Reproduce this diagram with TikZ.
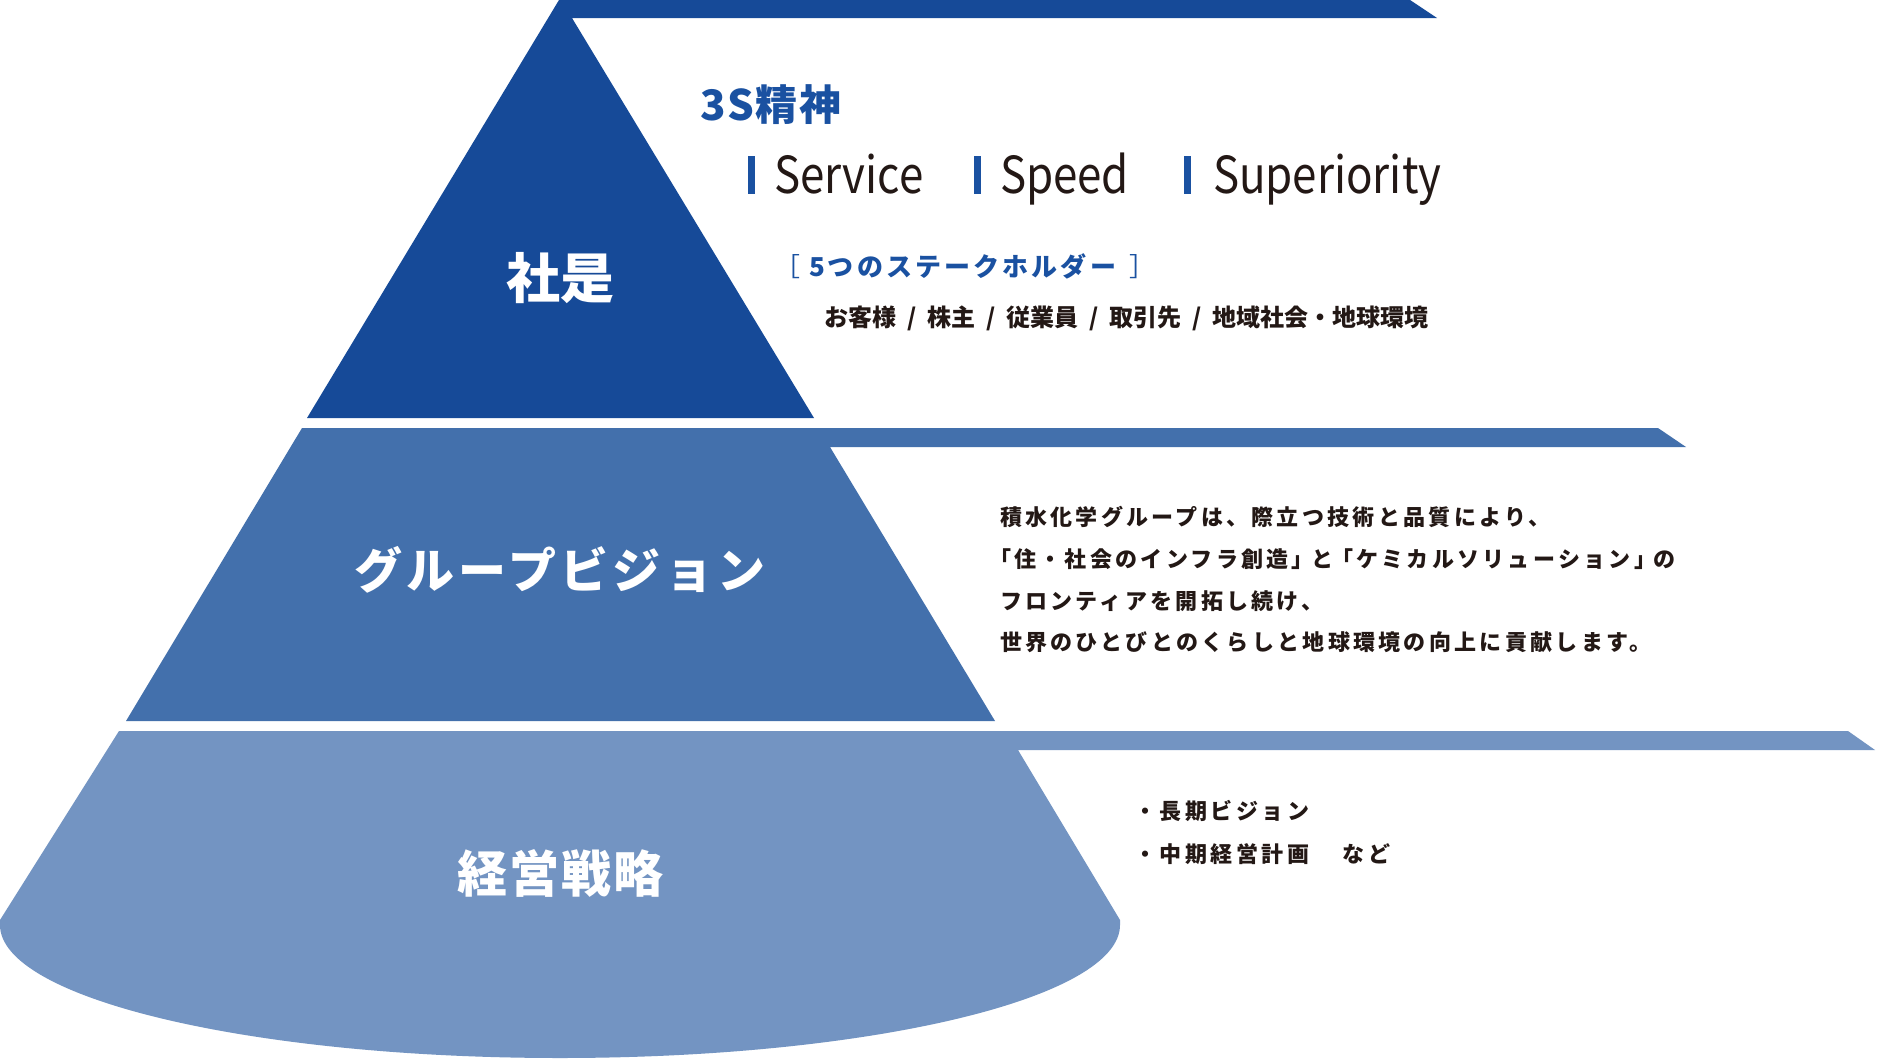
\documentclass[tikz,border=0pt]{standalone}
\usepackage{fontspec}
\setmainfont{Noto Sans CJK JP}
\newfontfamily\jp{Noto Sans CJK JP}
\newfontfamily\jpTa[LetterSpace=4]{Noto Sans CJK JP}
\newfontfamily\jpTb[LetterSpace=9]{Noto Sans CJK JP}
\newfontfamily\jpTc[LetterSpace=12]{Noto Sans CJK JP}
\newfontfamily\jpTd[LetterSpace=15]{Noto Sans CJK JP}
\newfontfamily\jpTe[LetterSpace=16]{Noto Sans CJK JP}
\newcommand\myLqS{\hspace{-0.5em}「}
\newcommand\myLq{\hspace{-0.1em}「}
\newcommand\myRq{」\hspace{-0.1em}}
\newcommand\mySl{\hspace{11pt}/\hspace{11pt}}
\definecolor{tierA}{HTML}{164A98}
\definecolor{tierB}{HTML}{4370AC}
\definecolor{tierC}{HTML}{7394C2}
\definecolor{accent}{HTML}{1A51A1}
\definecolor{inkc}{HTML}{231815}
\tikzset{
  lab/.style={text=white, inner sep=0pt, outer sep=0pt},
  txt/.style={anchor=base west, inner sep=0pt, outer sep=0pt, text=inkc},
  bluetxt/.style={anchor=base west, inner sep=0pt, outer sep=0pt, text=accent},
  latin/.style={txt, font=\jp\fontsize{51}{60}\selectfont},
  vistxt/.style={txt, font=\jpTd\bfseries\fontsize{22}{41}\selectfont},
  strtxt/.style={txt, font=\jpTe\bfseries\fontsize{22}{41}\selectfont},
  barmark/.style={fill=accent}
}
\begin{document}
\begin{tikzpicture}[x=1pt,y=1pt]
\useasboundingbox (0,0) rectangle (1877,-1060);
\fill[white] (0,0) rectangle (1877,-1060);
% tiers
\fill[tierA] (559,0) -- (1410,0) -- (1437,-18) -- (572,-18) -- (814,-418) -- (307,-418) -- cycle;
\fill[tierB] (302,-428) -- (1658,-428) -- (1686,-447) -- (830,-447) -- (995,-721) -- (126,-721) -- cycle;
\fill[tierC] (119,-731) -- (1848,-731) -- (1875,-750) -- (1018,-750) -- (1120,-920) -- (1120,-925)
  arc[start angle=0,end angle=-180,x radius=560pt,y radius=133pt] -- (0,-920) -- cycle;
% tier labels
\node[lab, font=\jp\bfseries\fontsize{54}{60}\selectfont] (shaze) at (560,-278) {社是};
\node[lab, font=\jpTb\bfseries\fontsize{48}{56}\selectfont] (vision) at (560,-570) {グループビジョン};
\node[lab, font=\jpTa\bfseries\fontsize{50}{58}\selectfont] (senryaku) at (560,-873) {経営戦略};
% 3S
\node[bluetxt, font=\jpTa\bfseries\fontsize{42}{48}\selectfont] (threeS) at (700,-120) {3S精神};
\fill[barmark] (748,-156) rectangle (755,-194);
\fill[barmark] (974,-156) rectangle (981,-194);
\fill[barmark] (1184,-156) rectangle (1191,-194);
\node[latin] (service) at (774,-193) {\scalebox{0.86}[1]{Service}};
\node[latin] (speed) at (1000,-193) {\scalebox{0.86}[1]{Speed}};
\node[latin] (superiority) at (1213,-193) {\scalebox{0.86}[1]{Superiority}};
% stakeholders
\node[bluetxt, font=\jpTc\bfseries\fontsize{26}{30}\selectfont] (stake) at (774,-276) {{\mdseries ［}\hspace{9pt}5つのステークホルダー\hspace{13pt}{\mdseries ］}};
\node[txt, font=\jp\bfseries\fontsize{24}{28}\selectfont] (stakelist) at (824,-326) {お客様\mySl 株主\mySl 従業員\mySl 取引先\mySl 地域社会・地球環境};
% group vision text
\node[vistxt] (v1) at (1000,-525) {積水化学グループは、際立つ技術と品質により、};
\node[vistxt] (v2) at (1000,-567) {\myLqS 住・社会のインフラ創造\myRq{}と\myLq ケミカルソリューション\myRq{}の};
\node[vistxt] (v3) at (1000,-609) {フロンティアを開拓し続け、};
\node[vistxt] (v4) at (1000,-650) {世界のひとびとのくらしと地球環境の向上に貢献します。};
% strategy text
\node[strtxt] (s1) at (1134,-819) {・長期ビジョン};
\node[strtxt] (s2) at (1134,-862) {・中期経営計画　\hspace{8pt}など};
\end{tikzpicture}
\end{document}
